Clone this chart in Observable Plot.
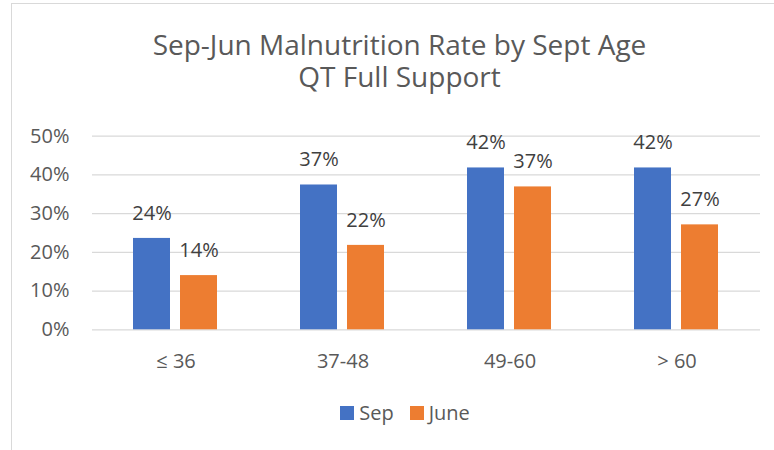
<!DOCTYPE html>
<html><head><meta charset="utf-8">
<script src="https://cdn.jsdelivr.net/npm/d3@7"></script>
<script src="https://cdn.jsdelivr.net/npm/@observablehq/plot@0.6"></script>
<style>
html,body{margin:0;padding:0;background:#fff;overflow:hidden;width:774px;height:450px;font-family:'Open Sans',sans-serif;}
#frame{position:absolute;left:11px;top:3px;width:800px;height:500px;border:1px solid #D9D9D9;box-sizing:border-box;}
.title{position:absolute;left:0;width:799px;text-align:center;font-size:28px;line-height:30px;height:30px;color:#595959;white-space:nowrap;}
#chart{position:absolute;left:0;top:110px;}
#legend{position:absolute;left:0;top:403px;width:810px;display:flex;justify-content:center;align-items:center;font-size:20px;line-height:20px;color:#595959;}
#legend .item{display:flex;align-items:center;margin:0 8px;}
#legend .sw{width:14px;height:14px;margin-right:5px;}
</style></head>
<body>
<div id="frame"></div>
<div class="title" style="top:29px">Sep-Jun Malnutrition Rate by Sept Age</div>
<div class="title" style="top:61px">QT Full Support</div>
<div id="chart"></div>
<div id="legend"></div>
<script>
const categories = ["≤ 36", "37-48", "49-60", "> 60"];
const series = ["Sep", "June"];
const sepValues = [0.236, 0.374, 0.418, 0.418];
const juneValues = [0.14, 0.218, 0.369, 0.271];
const yTicks = [0, 0.1, 0.2, 0.3, 0.4, 0.5];
const colors = ["#4472C4", "#ED7D31"];

const data = categories.flatMap((c, i) => [
  {age: c, series: "Sep", value: sepValues[i]},
  {age: c, series: "June", value: juneValues[i]}
]);
const pct = d3.format(".0%");

const chart = Plot.plot({
  width: 774, height: 270,
  marginLeft: 92, marginRight: 14, marginTop: 25.7, marginBottom: 50.7,
  style: {fontFamily: "'Open Sans', sans-serif", fontSize: "20px", color: "#595959", background: "transparent", overflow: "visible"},
  fx: {domain: categories, padding: 0, label: null},
  x: {domain: series, paddingInner: 0.21, paddingOuter: 0.863, axis: null},
  y: {domain: [0, 0.5], label: null},
  color: {domain: series, range: colors},
  marks: [
    Plot.gridY(yTicks, {stroke: "#D9D9D9", strokeOpacity: 1, strokeWidth: 1.3}),
    Plot.axisY(yTicks, {tickSize: 0, tickPadding: 23, tickFormat: pct, fill: "#595959", fontSize: 20, label: null}),
    Plot.axisFx({anchor: "bottom", tickSize: 0, tickPadding: 24, fontSize: 20, fill: "#595959", label: null}),
    Plot.barY(data, {fx: "age", x: "series", y: "value", fill: "series"}),
    Plot.text(data, {fx: "age", x: "series", y: "value", text: d => pct(d.value), dy: -25, fill: "#404040", fontSize: 20})
  ]
});
document.getElementById("chart").appendChild(chart);

const legend = document.getElementById("legend");
series.forEach((s, i) => {
  const item = document.createElement("div");
  item.className = "item";
  const sw = document.createElement("div");
  sw.className = "sw";
  sw.style.background = colors[i];
  const t = document.createElement("span");
  t.textContent = s;
  item.appendChild(sw); item.appendChild(t);
  legend.appendChild(item);
});
</script>
</body></html>
